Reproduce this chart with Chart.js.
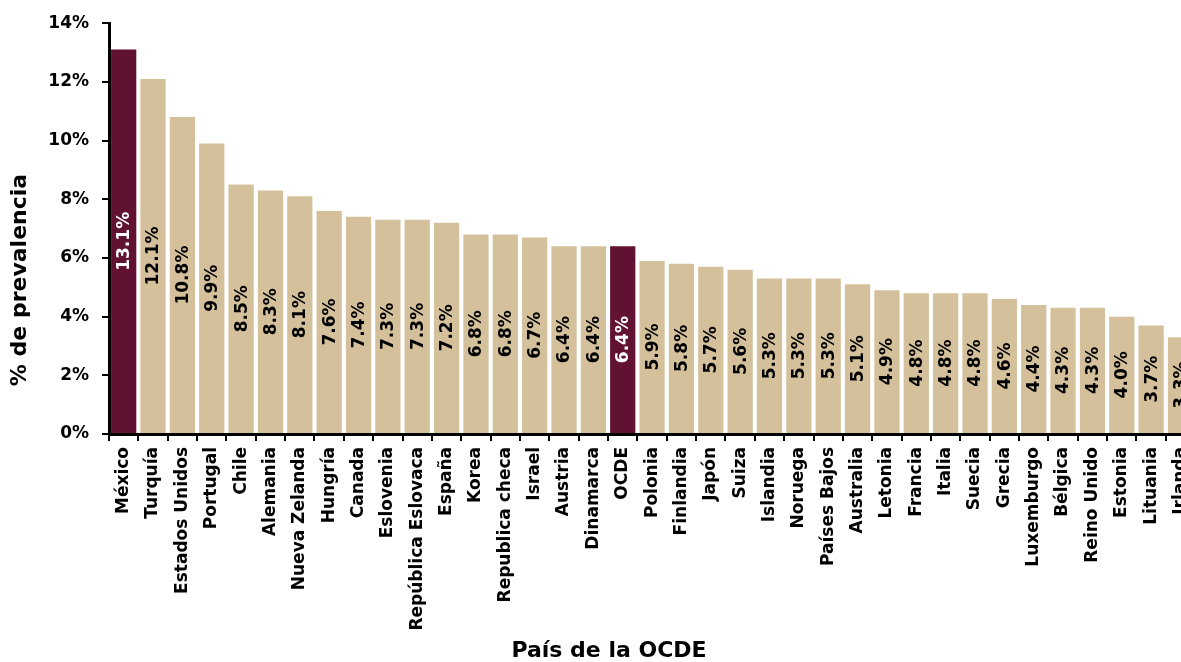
<!DOCTYPE html>
<html>
<head>
<meta charset="utf-8">
<script src="https://cdn.jsdelivr.net/npm/chart.js@4.4.1/dist/chart.umd.min.js"></script>
<style>
  html, body { margin: 0; padding: 0; background: #ffffff; overflow: hidden; }
  #wrap { width: 1181px; height: 662px; overflow: hidden; position: relative; }
  canvas { display: block; }
</style>
</head>
<body>
<div id="wrap"><canvas id="c" width="1207" height="662"></canvas></div>
<script>
const categories = ['México','Turquía','Estados Unidos','Portugal','Chile','Alemania','Nueva Zelanda','Hungría','Canada','Eslovenia','República Eslovaca','España','Korea','Republica checa','Israel','Austria','Dinamarca','OCDE','Polonia','Finlandia','Japón','Suiza','Islandia','Noruega','Países Bajos','Australia','Letonia','Francia','Italia','Suecia','Grecia','Luxemburgo','Bélgica','Reino Unido','Estonia','Lituania','Irlanda'];
const prevalence = [13.1,12.1,10.8,9.9,8.5,8.3,8.1,7.6,7.4,7.3,7.3,7.2,6.8,6.8,6.7,6.4,6.4,6.4,5.9,5.8,5.7,5.6,5.3,5.3,5.3,5.1,4.9,4.8,4.8,4.8,4.6,4.4,4.3,4.3,4.0,3.7,3.3];
const highlighted = ['México','OCDE'];
const yTicks = [0,2,4,6,8,10,12,14];
const yTitle = '% de prevalencia';
const xTitle = 'País de la OCDE';

const MAROON = '#611232';
const TAN = '#D4C19C';
const FONT = "'DejaVu Sans', sans-serif";

const barColors = categories.map(c => highlighted.includes(c) ? MAROON : TAN);
const labelColors = categories.map(c => highlighted.includes(c) ? '#ffffff' : '#000000');

const valueLabels = {
  id: 'valueLabels',
  afterDatasetsDraw(chart) {
    const ctx = chart.ctx;
    const meta = chart.getDatasetMeta(0);
    ctx.save();
    ctx.font = 'bold 17px ' + FONT;
    ctx.textAlign = 'center';
    ctx.textBaseline = 'middle';
    meta.data.forEach((el, i) => {
      const yMid = (el.y + el.base) / 2;
      ctx.save();
      ctx.translate(el.x + 1, yMid);
      ctx.rotate(-Math.PI / 2);
      ctx.fillStyle = labelColors[i];
      ctx.fillText(prevalence[i].toFixed(1) + '%', 0, 0);
      ctx.restore();
    });
    ctx.restore();
  }
};

const axisTitles = {
  id: 'axisTitles',
  afterDraw(chart) {
    const ctx = chart.ctx;
    ctx.save();
    ctx.fillStyle = '#000000';
    ctx.font = 'bold 22px ' + FONT;
    ctx.textAlign = 'center';
    ctx.textBaseline = 'middle';
    ctx.fillText(xTitle, 609, 651);
    ctx.translate(20, 280);
    ctx.rotate(-Math.PI / 2);
    ctx.fillText(yTitle, 0, 0);
    ctx.restore();
  }
};

new Chart(document.getElementById('c'), {
  type: 'bar',
  data: {
    labels: categories,
    datasets: [{
      data: prevalence,
      backgroundColor: barColors,
      borderWidth: 0,
      barPercentage: 0.86,
      categoryPercentage: 1.0
    }]
  },
  options: {
    responsive: false,
    animation: false,
    devicePixelRatio: 1,
    layout: { padding: { left: 0, right: 8, top: 23, bottom: 0 } },
    plugins: {
      legend: { display: false },
      tooltip: { enabled: false },
      title: { display: false }
    },
    scales: {
      x: {
        offset: true,
        grid: {
          offset: true,
          drawOnChartArea: false,
          drawTicks: true,
          tickLength: 7,
          color: '#000000',
          lineWidth: 2
        },
        border: { display: true, color: '#000000', width: 3 },
        ticks: {
          autoSkip: false,
          maxRotation: 90,
          minRotation: 90,
          padding: 6,
          color: '#000000',
          font: { family: FONT, size: 17, weight: 'bold' }
        },
        afterFit(scale) { scale.height = 228; }
      },
      y: {
        min: 0,
        max: 14,
        afterBuildTicks(scale) { scale.ticks = yTicks.map(v => ({ value: v })); },
        grid: {
          drawOnChartArea: false,
          drawTicks: true,
          tickLength: 7,
          color: '#000000',
          lineWidth: 2
        },
        border: { display: true, color: '#000000', width: 3 },
        ticks: {
          padding: 13,
          color: '#000000',
          font: { family: FONT, size: 17, weight: 'bold' },
          callback: v => v + '%'
        },
        afterFit(scale) { scale.width = 109; }
      }
    }
  },
  plugins: [valueLabels, axisTitles]
});
</script>
</body>
</html>
